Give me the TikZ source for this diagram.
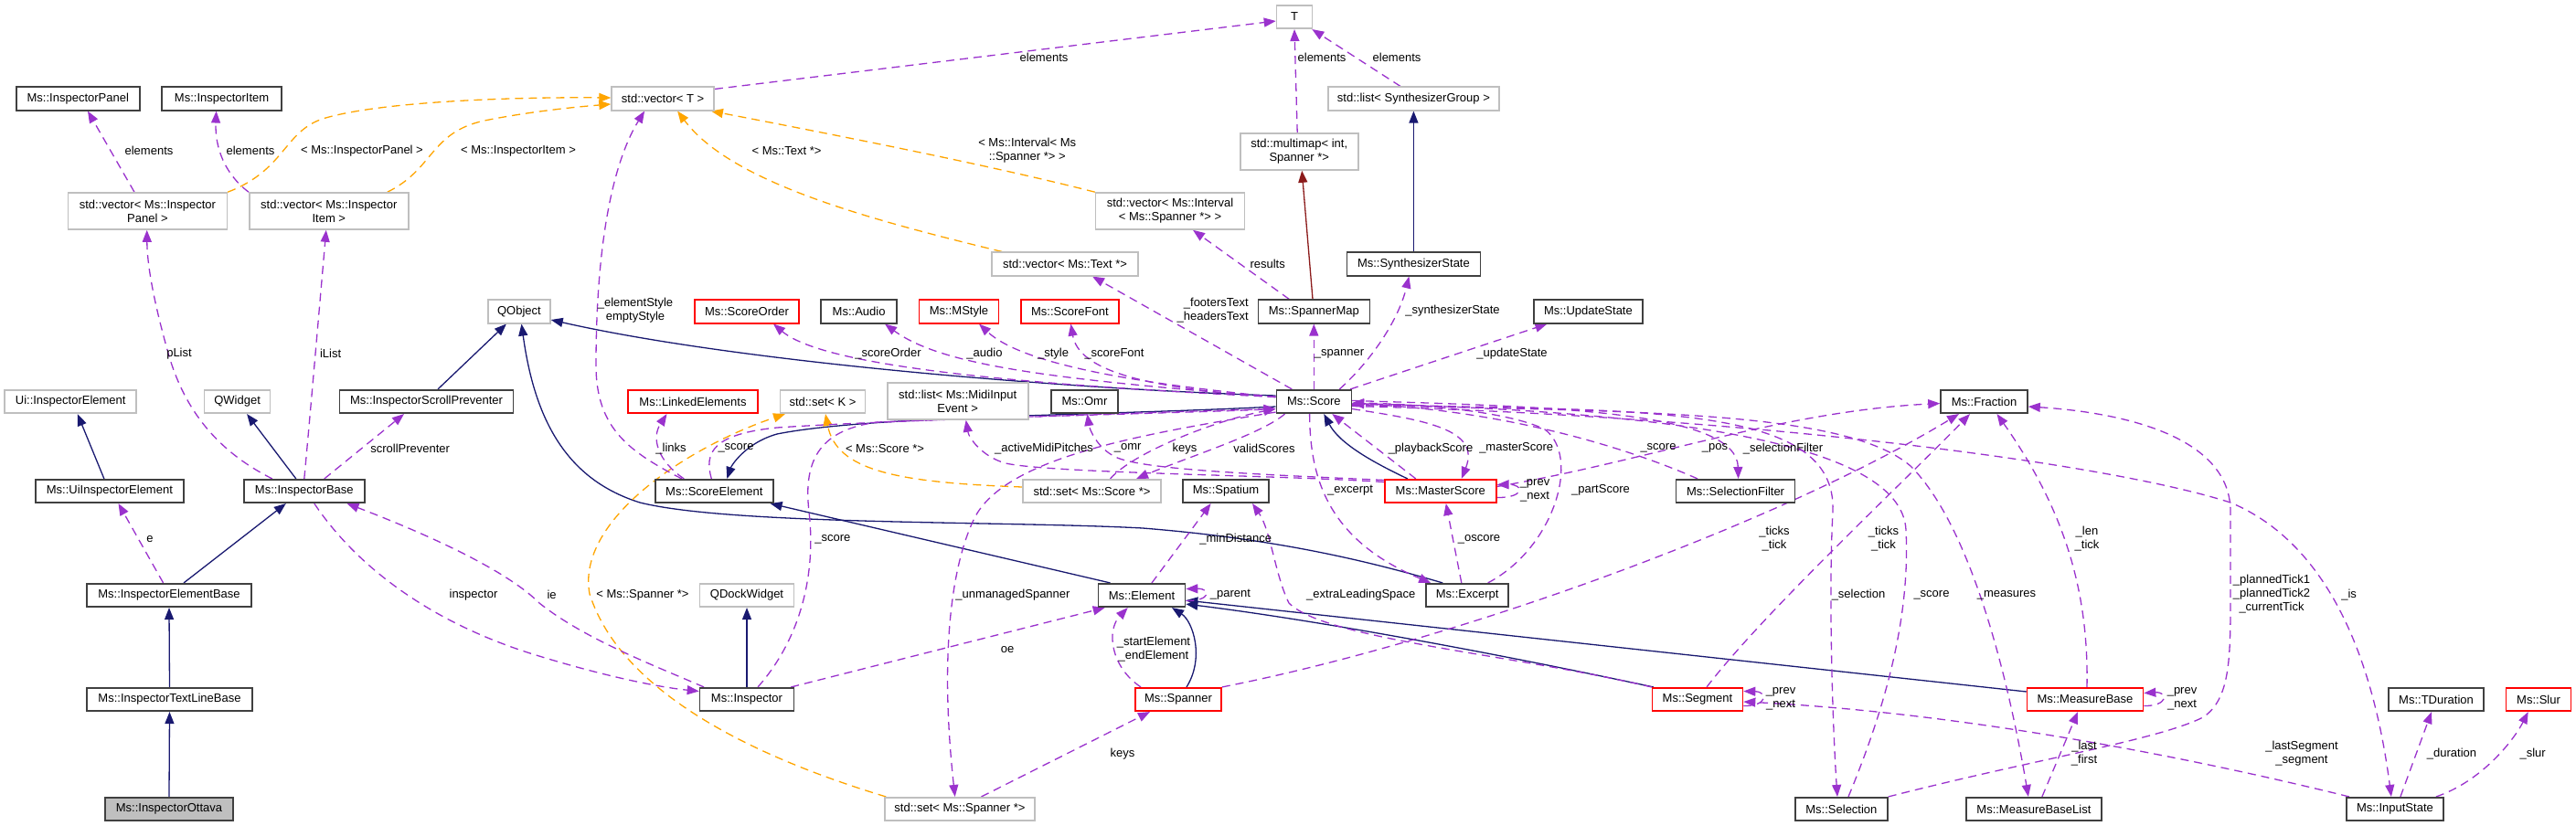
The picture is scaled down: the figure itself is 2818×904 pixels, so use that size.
\documentclass[tikz,border=0pt]{standalone}
\usepackage{fontspec}
\setmainfont{Liberation Sans}
\usetikzlibrary{arrows.meta}
\pgfdeclarelayer{bg}
\pgfsetlayers{bg,main}
\definecolor{inhc}{HTML}{191970}
\definecolor{usec}{HTML}{9A32CD}
\definecolor{tplc}{HTML}{FFA500}
\definecolor{privc}{HTML}{8B1A1A}
\definecolor{grayb}{HTML}{BFBFBF}
\definecolor{blkb}{HTML}{404040}
\begin{document}
\begin{tikzpicture}[x=1pt,y=-1pt,
  nbox/.style={rectangle, inner xsep=2pt, inner ysep=0pt, minimum height=25.5pt, align=center, font=\fontsize{13}{15}\selectfont, line width=1.6pt, fill=white},
  blk/.style={nbox, draw=blkb},
  gry/.style={nbox, draw=grayb},
  redb/.style={nbox, draw=red},
  twoline/.style={minimum height=40pt},
  arrowtip/.style={-{Triangle[length=13pt,width=10pt]}},
  inhedge/.style={draw=inhc, line width=1.3pt, arrowtip},
  usedge/.style={draw=usec, line width=1.3pt, dash pattern=on 9pt off 6pt, arrowtip},
  tpledge/.style={draw=tplc, line width=1.3pt, dash pattern=on 9pt off 6pt, arrowtip},
  privedge/.style={draw=privc, line width=1.3pt, arrowtip},
  lbl/.style={font=\fontsize{13}{15}\selectfont, inner sep=0pt, align=center},
]
\useasboundingbox (0,0) rectangle (2818,904);

% ---------------- nodes
\node[blk, minimum width=135pt] (ipanel) at (85.3,108) {Ms::InspectorPanel};
\node[blk, minimum width=131pt] (iitem) at (242.6,108) {Ms::InspectorItem};
\node[gry, minimum width=112pt] (vecT) at (725.1,108) {std::vector< T >};
\node[gry, minimum width=39pt] (T) at (1416,18.5) {T};
\node[gry, minimum width=187pt] (listSG) at (1546.4,108) {std::list< SynthesizerGroup >};
\node[gry, twoline, minimum width=129pt] (multimap) at (1421.2,166) {std::multimap< int,\\Spanner *>};
\node[gry, twoline, minimum width=174pt] (vecIP) at (161.4,231) {std::vector< Ms::Inspector\\Panel >};
\node[gry, twoline, minimum width=174pt] (vecII) at (359.8,231) {std::vector< Ms::Inspector\\Item >};
\node[gry, twoline, minimum width=163pt] (vecInt) at (1280,231) {std::vector< Ms::Interval\\< Ms::Spanner *> >};
\node[gry, minimum width=160pt] (vecText) at (1165,289) {std::vector< Ms::Text *>};
\node[blk, minimum width=146pt] (synth) at (1546.4,289) {Ms::SynthesizerState};
\node[gry, minimum width=68pt] (qobject) at (567.9,341) {QObject};
\node[redb, minimum width=114pt] (scoreOrder) at (817,341) {Ms::ScoreOrder};
\node[blk, minimum width=83pt] (audio) at (939.6,341) {Ms::Audio};
\node[redb, minimum width=87pt] (mstyle) at (1049,341) {Ms::MStyle};
\node[redb, minimum width=107pt] (scoreFont) at (1170.4,341) {Ms::ScoreFont};
\node[blk, minimum width=122pt] (spannerMap) at (1437.3,341) {Ms::SpannerMap};
\node[blk, minimum width=119pt] (updateState) at (1737.4,341) {Ms::UpdateState};
\node[gry, minimum width=144pt] (uiIE) at (77.2,439.5) {Ui::InspectorElement};
\node[gry, minimum width=72pt] (qwidget) at (259.6,439.5) {QWidget};
\node[blk, minimum width=190pt] (isp) at (466.5,439.5) {Ms::InspectorScrollPreventer};
\node[redb, minimum width=142pt] (linked) at (758,439.5) {Ms::LinkedElements};
\node[gry, minimum width=93pt] (setK) at (900,439.5) {std::set< K >};
\node[gry, twoline, minimum width=154pt] (listMidi) at (1047.7,439) {std::list< Ms::MidiInput\\Event >};
\node[blk, minimum width=73pt] (omr) at (1186.4,439.5) {Ms::Omr};
\node[blk, minimum width=82pt] (score) at (1437.3,439.5) {Ms::Score};
\node[blk, minimum width=95pt] (fraction) at (2170.5,439.5) {Ms::Fraction};
\node[blk, minimum width=162pt] (uiIElem) at (119.9,537.5) {Ms::UiInspectorElement};
\node[blk, minimum width=132pt] (ibase) at (332.8,537.5) {Ms::InspectorBase};
\node[blk, minimum width=129pt] (scoreElem) at (781.3,537.5) {Ms::ScoreElement};
\node[gry, minimum width=151pt] (setScore) at (1194.5,537.5) {std::set< Ms::Score *>};
\node[blk, minimum width=94pt] (spatium) at (1341,537.5) {Ms::Spatium};
\node[redb, minimum width=122pt] (master) at (1575.8,537.5) {Ms::MasterScore};
\node[blk, minimum width=130pt] (selFilter) at (1898.6,537.5) {Ms::SelectionFilter};
\node[blk, minimum width=180pt] (ieb) at (185,651.5) {Ms::InspectorElementBase};
\node[gry, minimum width=103pt] (qdock) at (817,651.5) {QDockWidget};
\node[blk, minimum width=95pt] (element) at (1249,651.5) {Ms::Element};
\node[blk, minimum width=90pt] (excerpt) at (1605.2,651.5) {Ms::Excerpt};
\node[blk, minimum width=181pt] (itlb) at (185.5,765.5) {Ms::InspectorTextLineBase};
\node[blk, minimum width=103pt] (inspector) at (817,765.5) {Ms::Inspector};
\node[redb, minimum width=94pt] (spanner) at (1289,765.5) {Ms::Spanner};
\node[redb, minimum width=99pt] (segment) at (1857,765.5) {Ms::Segment};
\node[redb, minimum width=127pt] (measureBase) at (2281,765.5) {Ms::MeasureBase};
\node[blk, minimum width=104pt] (tduration) at (2665,765.5) {Ms::TDuration};
\node[redb, minimum width=71pt] (slur) at (2777,765.5) {Ms::Slur};
\node[blk, fill=grayb, minimum width=140pt] (ottava) at (185,885.5) {Ms::InspectorOttava};
\node[gry, minimum width=164pt] (setSpanner) at (1050,885.5) {std::set< Ms::Spanner *>};
\node[blk, minimum width=101pt] (selection) at (2014.4,885.5) {Ms::Selection};
\node[blk, minimum width=148pt] (mbl) at (2224.9,885.5) {Ms::MeasureBaseList};
\node[blk, minimum width=106pt] (inputState) at (2619.9,885.5) {Ms::InputState};

\begin{pgfonlayer}{bg}
% ---------------- inheritance
\draw[inhedge] (ottava.north) -- (itlb.south);
\draw[inhedge] (itlb.north) -- (ieb.south);
\draw[inhedge] ([xshift=16pt]ieb.north) -- ([xshift=-20pt]ibase.south);
\draw[inhedge] ([xshift=-6pt]uiIElem.north) -- ([xshift=7.6pt]uiIE.south);
\draw[inhedge] ([xshift=-9pt]ibase.north) -- ([xshift=10.5pt]qwidget.south);
\draw[inhedge] ([xshift=12.5pt]isp.north) -- ([xshift=-14pt]qobject.south);
\draw[inhedge] ([xshift=-27pt]excerpt.north) .. controls (1500,615) and (1400,590) .. (1250,578) .. controls (1100,570) and (800,575) .. (700,550) .. controls (620,525) and (585,460) .. ([xshift=2.6pt]qobject.south);
\draw[inhedge] ([yshift=6.5pt]score.west) .. controls (1150,425) and (800,395) .. ([yshift=-9pt]qobject.east);
\draw[inhedge] ([yshift=-5.5pt]score.west) .. controls (1200,455) and (950,455) .. (850,475) .. controls (815,485) and (800,510) .. ([xshift=14pt]scoreElem.north);
\draw[inhedge] ([xshift=-34.5pt]element.north) -- ([xshift=-4pt]scoreElem.south east);
\draw[inhedge] ([xshift=-36pt]master.north) .. controls (1500,505) and (1465,485) .. ([xshift=11pt]score.south);
\draw[inhedge] ([xshift=9pt]spanner.north) .. controls (1318,720) and (1305,680) .. ([xshift=33pt]element.south);
\draw[inhedge] ([xshift=2pt]segment.north west) .. controls (1650,718) and (1450,680) .. ([yshift=4pt]element.south east);
\draw[inhedge] ([yshift=8.5pt]measureBase.west) -- ([yshift=8pt]element.south east);
\draw[inhedge] (synth.north) -- (listSG.south);
\draw[privedge] ([xshift=-1.3pt]spannerMap.north) -- ([xshift=3pt]multimap.south);
\draw[inhedge] (inspector.north) -- (qdock.south);

% ---------------- templates
\draw[tpledge] (vecIP.north east) .. controls (315,185) and (310,140) .. (360,128) .. controls (420,112) and (550,106) .. ([yshift=1pt]vecT.west);
\draw[tpledge] ([xshift=64pt]vecII.north) .. controls (475,185) and (470,145) .. (530,132) .. controls (580,122) and (630,117) .. ([yshift=-6pt]vecT.west);
\draw[tpledge] (vecInt.north west) .. controls (1080,180) and (900,145) .. ([xshift=-4pt]vecT.south east);
\draw[tpledge] ([xshift=12pt]vecText.north west) .. controls (950,240) and (800,200) .. ([xshift=16pt]vecT.south);
\draw[tpledge] ([xshift=2pt]setSpanner.north west) .. controls (830,830) and (680,760) .. (645,650) .. controls (630,570) and (750,490) .. ([xshift=-41pt]setK.south);
\draw[tpledge] ([yshift=4.5pt]setScore.west) .. controls (980,528) and (915,515) .. ([xshift=3pt]setK.south);

% ---------------- usage
\draw[usedge] ([xshift=-14.4pt]vecIP.north) -- ([xshift=10.7pt]ipanel.south);
\draw[usedge] (vecII.north west) .. controls (245,190) and (235,160) .. ([xshift=-6pt]iitem.south);
\draw[usedge] ([yshift=-3pt]vecT.north east) -- ([yshift=-4.5pt]T.west);
\draw[usedge] ([xshift=-2pt]multimap.north) -- (T.south);
\draw[usedge] ([xshift=-14.4pt]listSG.north) -- ([xshift=-1pt]T.south east);
\draw[usedge] ([xshift=-35.6pt]scoreElem.north) .. controls (690,495) and (652,470) .. (652,400) .. controls (652,250) and (675,170) .. ([xshift=-20pt]vecT.south);
\draw[usedge] ([xshift=-33pt]scoreElem.north) .. controls (720,505) and (712,480) .. ([xshift=-28.5pt]linked.south);
\draw[usedge] ([xshift=-3pt]scoreElem.north) .. controls (770,495) and (780,475) .. (850,468) .. controls (1000,458) and (1300,452) .. ([yshift=-8pt]score.west);
\draw[usedge] ([xshift=12pt]inspector.north) .. controls (875,700) and (893,630) .. (885,560) .. controls (878,500) and (900,470) .. (960,462) .. controls (1150,455) and (1300,450) .. ([yshift=-8pt]score.west);
\draw[usedge] ([xshift=-35pt]ibase.north) .. controls (230,490) and (200,440) .. (185,390) .. controls (168,330) and (161,290) .. ([xshift=-0.7pt]vecIP.south);
\draw[usedge] (ibase.north) .. controls (337,480) and (350,330) .. ([xshift=-3pt]vecII.south);
\draw[usedge] ([xshift=22pt]ibase.north) -- ([xshift=-24.5pt]isp.south);
\draw[usedge] ([xshift=-6.4pt]ieb.north) -- ([xshift=9.6pt]uiIElem.south);
\draw[usedge] ([xshift=11pt]ibase.south) .. controls (390,620) and (470,680) .. (580,715) .. controls (660,740) and (720,752) .. ([yshift=9pt]inspector.west);
\draw[usedge] ([xshift=-47pt]inspector.north) .. controls (720,730) and (640,700) .. (590,660) .. controls (550,620) and (450,578) .. ([xshift=46.7pt]ibase.south);
\draw[usedge] ([xshift=20pt]setScore.north) .. controls (1240,495) and (1330,460) .. ([yshift=-8pt]score.west);
\draw[usedge] ([xshift=10pt]score.south west) .. controls (1380,475) and (1300,500) .. ([xshift=48.5pt]setScore.north);
\draw[usedge] ([yshift=10pt]master.west) .. controls (1400,520) and (1150,518) .. (1100,507) .. controls (1075,500) and (1060,480) .. ([xshift=9pt]listMidi.south);
\draw[usedge] ([yshift=12pt]master.west) .. controls (1400,520) and (1250,515) .. (1220,500) .. controls (1200,490) and (1192,470) .. ([xshift=3pt]omr.south);
\draw[usedge] ([yshift=5pt]score.west) .. controls (1100,420) and (900,400) .. ([xshift=29pt]scoreOrder.south);
\draw[usedge] ([yshift=5pt]score.west) .. controls (1150,415) and (1030,400) .. ([xshift=28.4pt]audio.south);
\draw[usedge] ([yshift=5pt]score.west) .. controls (1250,420) and (1120,400) .. ([xshift=22pt]mstyle.south);
\draw[usedge] ([yshift=5pt]score.west) .. controls (1250,425) and (1180,405) .. ([xshift=1pt]scoreFont.south);
\draw[usedge] ([xshift=-24pt]score.north) -- ([xshift=30pt]vecText.south);
\draw[usedge] ([xshift=-27pt]spannerMap.north) -- ([xshift=25pt]vecInt.south);
\draw[usedge] (score.north) -- (spannerMap.south);
\draw[usedge] ([xshift=28pt]score.north) .. controls (1500,395) and (1530,350) .. ([xshift=-5pt]synth.south);
\draw[usedge] ([xshift=-2pt]score.north east) -- ([xshift=-45pt]updateState.south);
\draw[usedge] ([xshift=-27pt]master.north) -- ([xshift=20pt]score.south);
\draw[usedge] ([yshift=-8pt]score.east) .. controls (1560,460) and (1620,470) .. ([xshift=23pt]master.north);
\draw[usedge] ([yshift=-7pt]master.east) .. controls (1668,545) and (1668,530) .. ([yshift=7pt]master.east);
\draw[usedge] ([xshift=-6.4pt]excerpt.north) -- ([xshift=6pt]master.south);
\draw[usedge] ([xshift=-4.7pt]score.south) .. controls (1433,520) and (1450,590) .. ([xshift=-40pt]excerpt.north);
\draw[usedge] ([xshift=22.4pt]excerpt.north) .. controls (1700,600) and (1730,500) .. (1690,470) .. controls (1650,450) and (1550,442) .. ([yshift=-1.5pt]score.east);
\draw[usedge] ([xshift=-41.6pt]selFilter.north) .. controls (1780,490) and (1650,450) .. ([yshift=-2pt]score.east);
\draw[usedge] ([yshift=1pt]score.east) .. controls (1700,445) and (1900,450) .. ([xshift=3pt]selFilter.north);
\draw[usedge] ([yshift=5pt]master.east) .. controls (1800,505) and (1950,450) .. ([yshift=-2pt]fraction.west);
\draw[usedge] (spanner.north east) .. controls (1600,700) and (1950,570) .. ([xshift=-27.5pt]fraction.south);
\draw[usedge] ([xshift=10pt]segment.north) .. controls (1930,670) and (2080,530) .. ([xshift=-15.5pt]fraction.south);
\draw[usedge] ([xshift=2pt]measureBase.north) .. controls (2285,650) and (2260,560) .. ([xshift=14pt]fraction.south);
\draw[usedge] (selection.north east) .. controls (2230,830) and (2360,810) .. (2410,785) .. controls (2440,765) and (2440,720) .. (2440,650) -- (2440,560) .. controls (2440,470) and (2300,450) .. ([yshift=-5.5pt]fraction.east);
\draw[usedge] ([yshift=-3pt]score.east) .. controls (1800,450) and (2010,440) .. (2005,560) .. controls (2000,650) and (2005,800) .. ([xshift=-4.4pt]selection.north);
\draw[usedge] ([xshift=7.6pt]selection.north) .. controls (2060,780) and (2090,680) .. (2085,580) .. controls (2080,480) and (1800,450) .. ([yshift=-2pt]score.east);
\draw[usedge] ([yshift=-4pt]score.east) .. controls (1800,450) and (2020,450) .. (2090,510) .. controls (2160,580) and (2200,760) .. ([xshift=-6pt]mbl.north);
\draw[usedge] ([xshift=9pt]mbl.north) -- ([xshift=-8pt]measureBase.south);
\draw[usedge] ([yshift=-7pt]measureBase.east) .. controls (2372,773) and (2372,757) .. ([yshift=7pt]measureBase.east);
\draw[usedge] ([yshift=-7pt]segment.east) .. controls (1934,773) and (1934,757) .. ([yshift=9pt]segment.east);
\draw[usedge] ([xshift=-50pt]inputState.north) .. controls (2400,830) and (2150,780) .. ([yshift=-2.5pt]segment.east);
\draw[usedge] ([yshift=-5pt]score.east) .. controls (1900,455) and (2300,505) .. (2440,550) .. controls (2560,600) and (2600,750) .. ([xshift=-4pt]inputState.north);
\draw[usedge] ([xshift=6pt]inputState.north) -- ([xshift=-5pt]tduration.south);
\draw[usedge] ([xshift=45pt]inputState.north) .. controls (2715,855) and (2750,810) .. ([xshift=-11.3pt]slur.south);
\draw[usedge] ([yshift=-6pt]element.east) .. controls (1325,658) and (1325,644) .. ([yshift=7pt]element.east);
\draw[usedge] ([xshift=11pt]element.north) -- ([xshift=-16.4pt]spatium.south);
\draw[usedge] (segment.north west) .. controls (1650,715) and (1450,700) .. (1410,660) .. controls (1395,630) and (1390,580) .. ([xshift=29pt]spatium.south);
\draw[usedge] ([xshift=-41pt]spanner.north) .. controls (1215,730) and (1210,690) .. ([xshift=-15.3pt]element.south);
\draw[usedge] ([xshift=-4pt]inspector.north east) -- ([xshift=8pt]element.south west);
\draw[usedge] ([xshift=23.5pt]setSpanner.north) -- ([xshift=-31pt]spanner.south);
\draw[usedge] ([yshift=2pt]score.south west) .. controls (1250,475) and (1100,500) .. (1066,567) .. controls (1040,620) and (1028,720) .. ([xshift=-5.3pt]setSpanner.north);
\end{pgfonlayer}

% ---------------- labels
\node[lbl] (la) at (163,165) {elements};
\node[lbl] (lb) at (274,165) {elements};
\node[lbl] (lc) at (396,165) {< Ms::InspectorPanel >};
\node[lbl] (ld) at (567,165) {< Ms::InspectorItem >};
\node[lbl] (le) at (1142,63) {elements};
\node[lbl] (lf) at (1446,63) {elements};
\node[lbl] (lg) at (1528,63) {elements};
\node[lbl] (lh) at (1123.7,165) {< Ms::Interval< Ms\\::Spanner *> >};
\node[lbl] (li) at (860.5,165) {< Ms::Text *>};
\node[lbl] (lj) at (695,340) {\_elementStyle\\emptyStyle};
\node[lbl] (lk) at (805,490.7) {\_score};
\node[lbl] (ll) at (910.8,590) {\_score};
\node[lbl] (lm) at (196,387) {pList};
\node[lbl] (ln) at (361.6,387) {iList};
\node[lbl] (lo) at (448.7,490.7) {scrollPreventer};
\node[lbl] (lp) at (164,590) {e};
\node[lbl] (lq) at (518,651) {inspector};
\node[lbl] (lr) at (603.6,651) {ie};
\node[lbl] (ls) at (703,651) {< Ms::Spanner *>};
\node[lbl] (lt) at (968,490.7) {< Ms::Score *>};
\node[lbl] (lu1) at (1296,490.7) {keys};
\node[lbl] (lu2) at (1383,490.7) {validScores};
\node[lbl] (lv) at (1142,490.7) {\_activeMidiPitches};
\node[lbl] (lw) at (1233.7,490.7) {\_omr};
\node[lbl] (lx) at (971.5,387) {\_scoreOrder};
\node[lbl] (ly) at (1077,387) {\_audio};
\node[lbl] (lz) at (1152,387) {\_style};
\node[lbl] (laa) at (1219,387) {\_scoreFont};
\node[lbl, align=right] (lbb) at (1326.7,340) {\_footersText\\\_headersText};
\node[lbl] (lcc) at (1386.7,289) {results};
\node[lbl] (ldd) at (1465,387) {\_spanner};
\node[lbl] (lee) at (1589,340) {\_synthesizerState};
\node[lbl] (lff) at (1654,387) {\_updateState};
\node[lbl] (lgg) at (1565,490.7) {\_playbackScore};
\node[lbl] (lhh) at (1658.7,490.7) {\_masterScore};
\node[lbl] (lii) at (1679,536.5) {\_prev\\\_next};
\node[lbl] (ljj) at (1618,590) {\_oscore};
\node[lbl] (lkk) at (1477,536.7) {\_excerpt};
\node[lbl] (lll) at (1751,536.7) {\_partScore};
\node[lbl] (lmm) at (1814,490.7) {\_score};
\node[lbl] (lnn) at (1950.5,490.7) {\_selectionFilter};
\node[lbl] (loo) at (1876,490.7) {\_pos};
\node[lbl] (lpp) at (1941,590) {\_ticks\\\_tick};
\node[lbl] (lqq) at (2060.5,590) {\_ticks\\\_tick};
\node[lbl] (lrr) at (2283,590) {\_len\\\_tick};
\node[lbl] (lss) at (2485,650) {\_plannedTick1\\\_plannedTick2\\\_currentTick};
\node[lbl] (ltt) at (2033,651) {\_selection};
\node[lbl] (luu) at (2113,651) {\_score};
\node[lbl] (lvv) at (2195,651) {\_measures};
\node[lbl] (lww) at (2280,825) {\_last\\\_first};
\node[lbl] (lxx) at (2387,765) {\_prev\\\_next};
\node[lbl] (lyy) at (1948,765) {\_prev\\\_next};
\node[lbl] (lzz) at (2518,825) {\_lastSegment\\\_segment};
\node[lbl] (lA) at (1346,651) {\_parent};
\node[lbl] (lB) at (1351.7,590) {\_minDistance};
\node[lbl] (lC) at (1488.8,651) {\_extraLeadingSpace};
\node[lbl] (lD) at (1262,711) {\_startElement\\\_endElement};
\node[lbl] (lE) at (1102,711) {oe};
\node[lbl] (lF) at (1228,825) {keys};
\node[lbl] (lG) at (1108,651) {\_unmanagedSpanner};
\node[lbl] (lH) at (734,490.7) {\_links};
\node[lbl] (lis) at (2569.6,651) {\_is};
\node[lbl] (ldur) at (2682,825) {\_duration};
\node[lbl] (lslur) at (2770.6,825) {\_slur};
\end{tikzpicture}
\end{document}
